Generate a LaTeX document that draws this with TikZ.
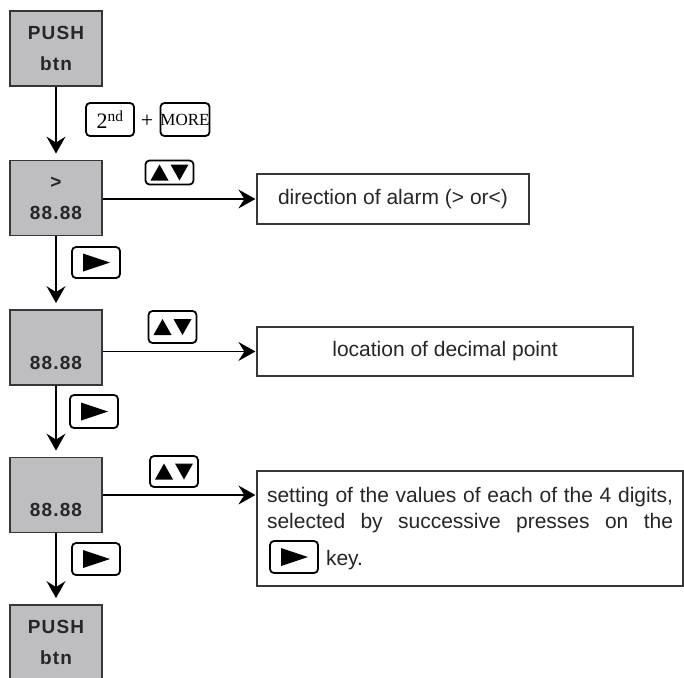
\documentclass[tikz,border=0pt]{standalone}
\usepackage{fontspec}
\setmainfont{Liberation Sans}
\newfontfamily\keyfont{Liberation Serif}
\newfontfamily\lcdfont[LetterSpace=6]{Liberation Sans}
\usetikzlibrary{arrows.meta,positioning}
\definecolor{screengray}{RGB}{190,190,193}
\definecolor{edgegray}{RGB}{55,55,55}

\tikzset{
  screen/.style={draw=edgegray, line width=1.8pt, fill=screengray, minimum width=92pt, minimum height=75pt,
    inner sep=0pt, align=center, text=black!85, font=\lcdfont\bfseries\fontsize{19}{31}\selectfont},
  infobox/.style={draw=edgegray, line width=1.2pt, inner sep=0pt, text=black!85, font=\fontsize{21}{26}\selectfont},
  keybtn/.style={draw, line width=1.8pt, rounded corners=4pt, fill=white, minimum width=48pt, minimum height=31pt, inner sep=0pt},
  flow/.style={line width=1.3pt, -{Stealth[length=17pt,width=19pt,inset=6pt]}},
  updown/.pic={\fill (-19,8) -- (-1,8) -- (-10,-8) -- cycle; \fill (1,-8) -- (19,-8) -- (10,8) -- cycle;},
  rightkey/.pic={\fill (-13,-9) -- (14,0) -- (-13,9) -- cycle;}
}

\begin{document}
\begin{tikzpicture}[x=1pt,y=-1pt]
\useasboundingbox (0,0) rectangle (684,677);

% display screens
\node[screen] (push1) at (56,48.5) {\strut PUSH\\\strut btn};
\node[screen] (alm) at (56,198) {\strut >\\\strut 88.88};
\node[screen] (dec) at (56,347.5) {\strut\\\strut 88.88};
\node[screen] (val) at (56,495) {\strut\\\strut 88.88};
\node[screen] (push2) at (56,642.5) {\strut PUSH\\\strut btn};

% explanations
\node[infobox, minimum width=272pt, minimum height=50pt] (dirtxt) at (393,199) {direction of alarm (> or<)};
\node[infobox, minimum width=376pt, minimum height=49pt] (dectxt) at (445,351.5) {location of decimal point};
\node[infobox, minimum width=426pt, minimum height=115pt, text width=406pt, inner xsep=10pt, align=justify] (valtxt) at (470,528.5)
  {setting of the values of each of the 4 digits,\linebreak selected by successive presses on the\vspace{11pt}\linebreak \hspace*{59pt}key.};

% flow
\draw[flow, shorten >=6pt] (push1) -- (alm);
\draw[flow, shorten >=6pt] (alm) -- (dec);
\draw[flow, shorten >=6pt] (dec) -- (val);
\draw[flow, shorten >=6pt] (val) -- (push2);
\draw[flow, shorten >=1pt] (alm.east |- dirtxt.west) -- (dirtxt.west);
\draw[flow, shorten >=1pt] (dec.east |- dectxt.west) -- (dectxt.west);
\draw[flow, shorten >=1pt] (val.east) -- (val.east -| valtxt.west);

% keys
\node[keybtn, minimum height=33pt] (k2nd) at (110,119.5) {\keyfont\fontsize{22}{22}\selectfont 2\textsuperscript{nd}};
\node[font=\keyfont\fontsize{22}{22}\selectfont] (plus) at (147,121) {+};
\node[keybtn, minimum height=33pt] (kmore) at (185,119.5) {\keyfont\fontsize{17}{17}\selectfont MORE};

\node[keybtn, minimum height=24pt] (kud1) at (169.5,172.5) {};
\node[keybtn, minimum height=32pt] (kud2) at (172.5,327) {};
\node[keybtn, minimum height=31pt] (kud3) at (174,471.5) {};
\pic at (kud1) {updown};
\pic at (kud2) {updown};
\pic at (kud3) {updown};

\node[keybtn] (kr1) at (96,262.5) {};
\node[keybtn, minimum height=33pt] (kr2) at (94,411.5) {};
\node[keybtn, minimum height=32pt] (kr3) at (96,559) {};
\node[keybtn, minimum height=32pt] (kval) at (294,557) {};
\pic at (kr1) {rightkey};
\pic at (kr2) {rightkey};
\pic at (kr3) {rightkey};
\pic at (kval) {rightkey};
\end{tikzpicture}
\end{document}
